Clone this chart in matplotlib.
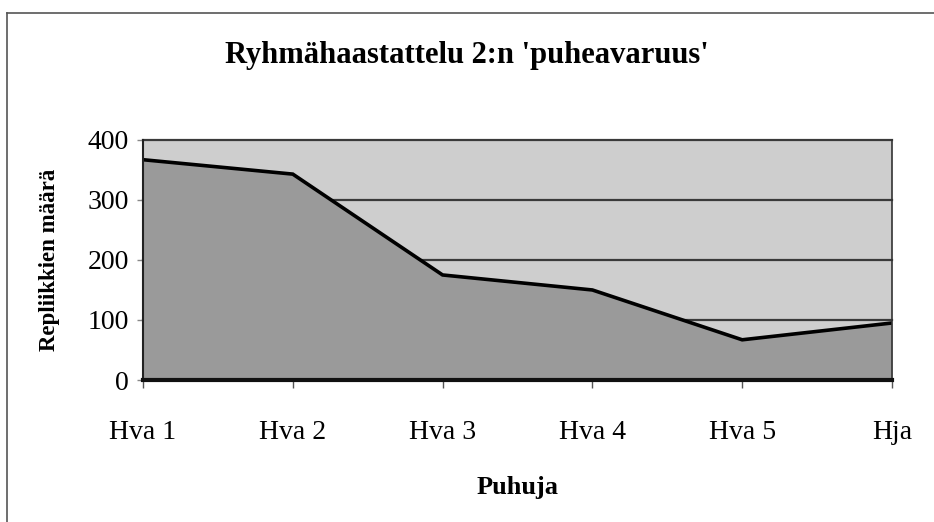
#!/usr/bin/env python3
# -*- coding: utf-8 -*-

import matplotlib
matplotlib.use("Agg")
import matplotlib.pyplot as plt
from matplotlib.lines import Line2D

# Data
speakers = ["Hva 1", "Hva 2", "Hva 3", "Hva 4", "Hva 5", "Hja"]
replies = [367, 343, 175, 150, 67, 95]
y_ticks = [0, 100, 200, 300, 400]

plt.rcParams['font.family'] = ['Liberation Serif', 'DejaVu Serif']

fig = plt.figure(figsize=(9.34, 5.22), dpi=100)
fig.patch.set_facecolor('white')
ax = fig.add_axes([0.1531, 0.272, 0.8019, 0.46])

x = list(range(len(speakers)))

# plot background + gridlines (hidden behind the area)
ax.set_facecolor('#cecece')
for yv in y_ticks[1:]:
    ax.axhline(yv, color='#3a3a3a', linewidth=1.6, zorder=1, clip_on=False)

ax.fill_between(x, 0, replies, color='#9a9a9a', zorder=2, linewidth=0)
ax.plot(x, replies, color='black', linewidth=2.6, zorder=3,
        solid_joinstyle='miter')

ax.set_xlim(0, len(speakers) - 1)
ax.set_ylim(0, 400)
ax.set_xticks(x)
ax.set_xticklabels(speakers)
ax.set_yticks(y_ticks)

ax.tick_params(axis='x', labelsize=20, pad=23, length=6, width=1,
               color='#555555', direction='out')
ax.tick_params(axis='y', labelsize=20, pad=6, length=4, width=1,
               color='#888888', direction='out')

ax.spines['top'].set_visible(False)
ax.spines['left'].set_color('#222222')
ax.spines['left'].set_linewidth(1.5)
ax.spines['right'].set_color('#333333')
ax.spines['right'].set_linewidth(1.2)
ax.spines['bottom'].set_color('#111111')
ax.spines['bottom'].set_linewidth(3)
for sp in ax.spines.values():
    sp.set_zorder(4)

ax.set_ylabel('Repliikkien määrä', fontsize=16.5, fontweight='bold',
              labelpad=20)
ax.set_xlabel('Puhuja', fontsize=19, fontweight='bold', labelpad=22)

fig.text(0.5, 0.893, "Ryhmähaastattelu 2:n 'puheavaruus'", ha='center',
         va='center', fontsize=22, fontweight='bold')

# outer chart frame (only top and left edges survive in the scan)
fig.add_artist(Line2D([0.0075, 1.0], [0.975, 0.975], color='#555555',
                      linewidth=1.2, transform=fig.transFigure))
fig.add_artist(Line2D([0.0075, 0.0075], [0.0, 0.975], color='#555555',
                      linewidth=1.2, transform=fig.transFigure))

fig.savefig('out.png', dpi=100, facecolor='white')
